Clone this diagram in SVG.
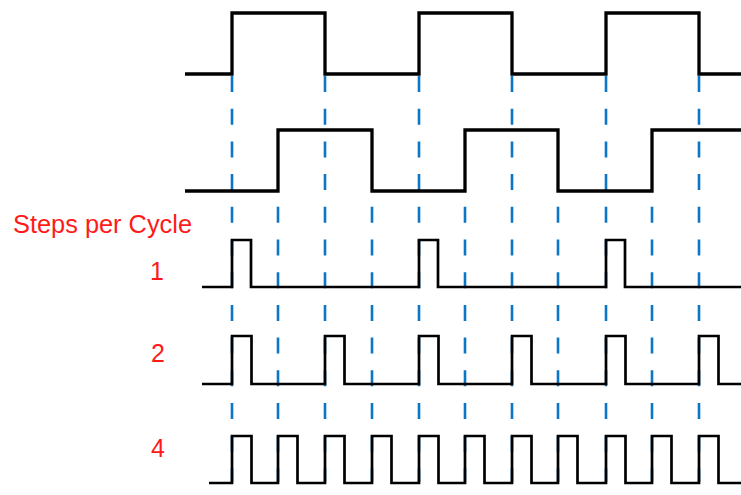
<svg xmlns="http://www.w3.org/2000/svg" width="741" height="495" viewBox="0 0 741 495">
<style>
.guide{stroke:#0b76c6;stroke-width:2.6;stroke-dasharray:16 16.7;fill:none}
.clk{stroke:#000;stroke-width:3.3;fill:none;stroke-linejoin:miter}
.pulse{stroke:#000;stroke-width:2.7;fill:none;stroke-linejoin:miter}
.lbl{fill:#ff1a1a;font-family:"Liberation Sans",Arial,sans-serif;font-size:25px}
</style>
<rect width="741" height="495" fill="#fff"/>
<g id="connectors">
<line class="guide" x1="232" y1="76" x2="232" y2="482"/>
<line class="guide" x1="325" y1="76" x2="325" y2="482"/>
<line class="guide" x1="419" y1="76" x2="419" y2="482"/>
<line class="guide" x1="512" y1="76" x2="512" y2="482"/>
<line class="guide" x1="606" y1="76" x2="606" y2="482"/>
<line class="guide" x1="699" y1="76" x2="699" y2="482"/>
<line class="guide" x1="278" y1="206.8" x2="278" y2="482"/>
<line class="guide" x1="372" y1="206.8" x2="372" y2="482"/>
<line class="guide" x1="465" y1="206.8" x2="465" y2="482"/>
<line class="guide" x1="558" y1="206.8" x2="558" y2="482"/>
<line class="guide" x1="652" y1="206.8" x2="652" y2="482"/>
</g>
<g id="channelA">
<path class="clk" d="M185,74 H232 V13 H325 V74 H419 V13 H512 V74 H606 V13 H699 V74 H741"/>
</g>
<g id="channelB">
<path class="clk" d="M185,191 H278 V130 H372 V191 H465 V130 H558 V191 H652 V130 H741"/>
</g>
<g id="label-title">
<text class="lbl" x="13" y="233" textLength="179" lengthAdjust="spacingAndGlyphs">Steps per Cycle</text>
</g>
<g id="step1">
<text class="lbl" x="157" y="280" text-anchor="middle">1</text>
<path class="pulse" d="M202,287 H232 V240 H251 V287 H419 V240 H438 V287 H606 V240 H625 V287 H741"/>
</g>
<g id="step2">
<text class="lbl" x="158" y="362" text-anchor="middle">2</text>
<path class="pulse" d="M202,384 H232 V336 H251.5 V384 H325 V336 H344.5 V384 H419 V336 H438.5 V384 H512 V336 H531.5 V384 H606 V336 H625.5 V384 H699 V336 H718.5 V384 H741"/>
</g>
<g id="step4">
<text class="lbl" x="158" y="457" text-anchor="middle">4</text>
<path class="pulse" d="M209,483 H232 V436 H251.5 V483 H278 V436 H297.5 V483 H325 V436 H344.5 V483 H372 V436 H391.5 V483 H419 V436 H438.5 V483 H465 V436 H484.5 V483 H512 V436 H531.5 V483 H558 V436 H577.5 V483 H606 V436 H625.5 V483 H652 V436 H671.5 V483 H699 V436 H718.5 V483 H741"/>
</g>
</svg>
